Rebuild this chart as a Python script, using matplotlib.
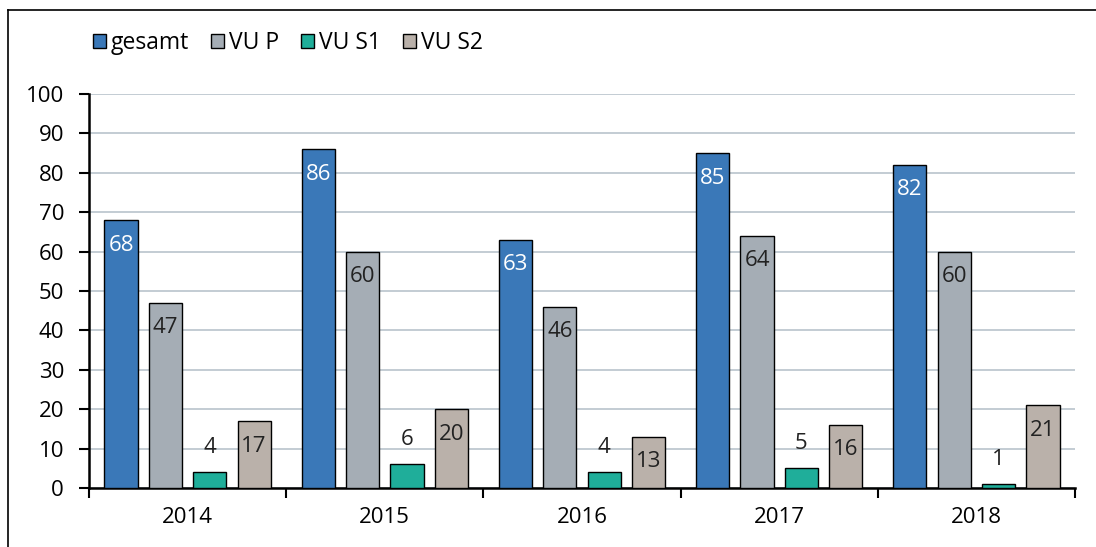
import matplotlib
matplotlib.use('Agg')
import matplotlib.pyplot as plt
from matplotlib.patches import Patch
from matplotlib.lines import Line2D
import numpy as np

plt.rcParams['font.family'] = ['Open Sans', 'DejaVu Sans']

# Data
years = ['2014', '2015', '2016', '2017', '2018']
series_names = ['gesamt', 'VU P', 'VU S1', 'VU S2']
gesamt = [68, 86, 63, 85, 82]
vu_p = [47, 60, 46, 64, 60]
vu_s1 = [4, 6, 4, 5, 1]
vu_s2 = [17, 20, 13, 16, 21]

colors = ['#3a78b8', '#a5adb5', '#1fae9a', '#bab1aa']
label_colors = ['white', '#222222', '#222222', '#222222']
# where the value label sits: inside the bar top or above it
label_inside = [True, True, False, True]

dpi = 100
fig = plt.figure(figsize=(1096 / dpi, 547 / dpi), dpi=dpi)
ax = fig.add_axes([89 / 1096, 1 - 488 / 547, (1075 - 89) / 1096, (488 - 94) / 547])

x = np.arange(len(years))
bar_w = 0.168
pitch = 0.225
offsets = (np.arange(4) - 1.5) * pitch

for i, vals in enumerate([gesamt, vu_p, vu_s1, vu_s2]):
    bars = ax.bar(x + offsets[i], vals, width=bar_w, color=colors[i],
                  edgecolor='black', linewidth=1.0, zorder=3, label=series_names[i])
    for b, v in zip(bars, vals):
        cx = b.get_x() + b.get_width() / 2
        dy = -25 if label_inside[i] else 25
        ax.annotate(str(v), (cx, v), xytext=(0, dy), textcoords='offset pixels',
                    ha='center', va='center', color=label_colors[i], fontsize=16, zorder=4)

ax.set_xlim(-0.5, len(years) - 0.5)
ax.set_ylim(0, 100)
ax.set_yticks(np.arange(0, 101, 10))
ax.yaxis.grid(True, color='#b9c3cc', linewidth=1.2, zorder=0)
ax.set_axisbelow(True)

# x ticks at category boundaries, labels centered
ax.set_xticks(np.arange(len(years) + 1) - 0.5)
ax.set_xticklabels([])
ax.set_xticks(x, minor=True)
ax.set_xticklabels(years, minor=True)
ax.tick_params(axis='x', which='minor', length=0, pad=14, labelsize=16)
ax.tick_params(axis='x', which='major', direction='out', length=7, width=1.5)
ax.tick_params(axis='y', direction='out', length=7, width=1.5, labelsize=16, pad=11)

for s in ['top', 'right']:
    ax.spines[s].set_visible(False)
ax.spines['left'].set_linewidth(1.8)
ax.spines['bottom'].set_linewidth(1.8)

handles = [Patch(facecolor=c, edgecolor='black', linewidth=1.0) for c in colors]
fig.legend(handles, series_names, loc='center left', bbox_to_anchor=(93 / 1096, 1 - 43 / 547),
           ncol=4, frameon=False, fontsize=16.5, handlelength=0.57, handleheight=0.57,
           handletextpad=0.22, columnspacing=0.95, borderaxespad=0, borderpad=0)

# outer frame (top and left edge visible)
fig.add_artist(Line2D([8 / 1096, 8 / 1096], [0, 1 - 10 / 547], transform=fig.transFigure,
                      color='black', linewidth=1.2))
fig.add_artist(Line2D([8 / 1096, 1], [1 - 10 / 547, 1 - 10 / 547], transform=fig.transFigure,
                      color='black', linewidth=1.2))

fig.savefig('out.png', dpi=dpi, facecolor='white')
